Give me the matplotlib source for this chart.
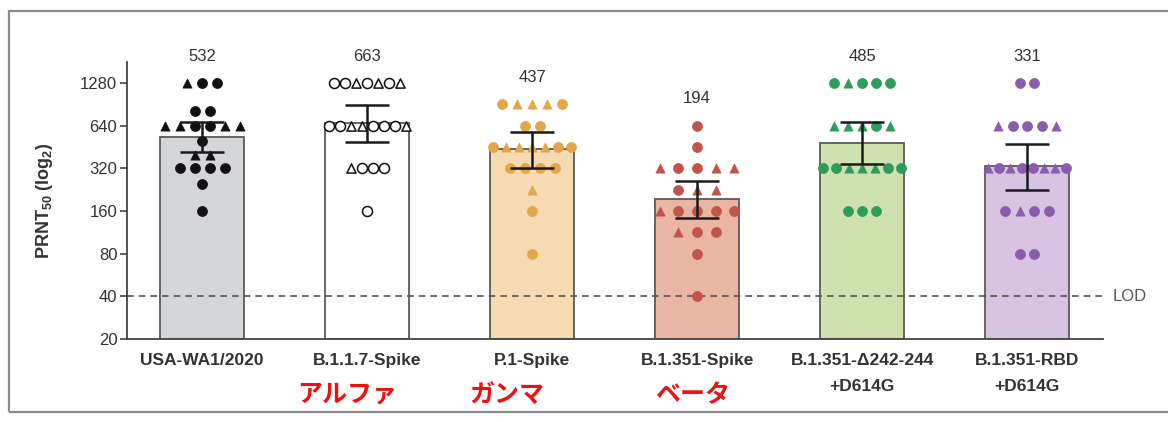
import matplotlib
matplotlib.use("Agg")
import matplotlib.pyplot as plt
import matplotlib.transforms as mtransforms
from matplotlib.patches import Rectangle

plt.rcParams["font.family"] = ["Liberation Sans", "DejaVu Sans"]
plt.rcParams["mathtext.fontset"] = "custom"
plt.rcParams["mathtext.rm"] = "Liberation Sans"
plt.rcParams["mathtext.bf"] = "Liberation Sans:bold"

# --- data ---
labels = ["USA-WA1/2020", "B.1.1.7-Spike", "P.1-Spike", "B.1.351-Spike",
          "B.1.351-\u0394242-244\n+D614G", "B.1.351-RBD\n+D614G"]
jp_names = ["", "アルファ", "ガンマ", "ベータ", "", ""]
gmt = [532, 663, 437, 194, 485, 331]
ci_low = [415, 488, 323, 142, 343, 225]
ci_high = [675, 888, 582, 262, 675, 474]

usa_titers = [1280, 1280, 1280, 810, 810, 640, 640, 640, 640, 640, 640,
              500, 400, 400, 320, 320, 320, 320, 250, 160]
usa_shapes = "^oo" "oo" "^^oo^^" "o" "^^" "oooo" "o" "o"

b117_titers = [1280, 1280, 1280, 1280, 1280, 1280, 1280,
               640, 640, 640, 640, 640, 640, 640, 640,
               320, 320, 320, 320, 160]
b117_shapes = "oo^o^o^" "oo^^ooo^" "^ooo" "o"

p1_titers = [905, 905, 905, 905, 905, 640, 640,
             453, 453, 453, 453, 453, 453, 453,
             320, 320, 320, 320, 226, 160, 80]
p1_shapes = "o^^^o" "oo" "o^^^^oo" "oooo" "^" "o" "o"

b1351_titers = [640, 453, 320, 320, 320, 320, 320, 226, 226, 226,
                160, 160, 160, 160, 160, 113, 113, 113, 80, 40]
b1351_shapes = "o" "o" "^oo^^" "o^^" "^oooo" "^oo" "o" "o"

del_titers = [1280, 1280, 1280, 1280, 1280, 640, 640, 640, 640, 640,
              320, 320, 320, 320, 320, 320, 320, 160, 160, 160]
del_shapes = "o^ooo" "^^^o^" "oo^^^oo" "ooo"

rbd_titers = [1280, 1280, 640, 640, 640, 640, 640,
              320, 320, 320, 320, 320, 320, 320, 320,
              160, 160, 160, 160, 80, 80]
rbd_shapes = "oo" "^ooo^" "^o^oo^^o" "o^oo" "oo"

all_titers = [usa_titers, b117_titers, p1_titers, b1351_titers, del_titers, rbd_titers]
all_shapes = [usa_shapes, b117_shapes, p1_shapes, b1351_shapes, del_shapes, rbd_shapes]

# --- style ---
bar_colors = ["#d5d6da", "#ffffff", "#f6dab2", "#e9b6a4", "#cfe1ae", "#d7c4e3"]
pt_colors = ["#111111", "#111111", "#e2a64b", "#c2554b", "#2f9c5b", "#8a5cae"]
open_pts = [False, True, False, False, False, False]
max_step_px = [15, 11, 15, 18.7, 14, 14.5]
PX_PER_UNIT = 165.0

fig = plt.figure(figsize=(11.68, 4.22), dpi=100)
ax = fig.add_axes([127 / 1168, 1 - 339 / 422, 976 / 1168, (339 - 62) / 422])

x = list(range(len(labels)))
ax.bar(x, [g - 20 for g in gmt], bottom=20, width=0.51, color=bar_colors,
       edgecolor="#5a5a5a", linewidth=1.3, zorder=1)

ax.axhline(40, color="#555555", lw=1.2, ls=(0, (4, 3)), zorder=2)
ax.text(1.01, 40, "LOD", transform=mtransforms.blended_transform_factory(ax.transAxes, ax.transData),
        va="center", ha="left", fontsize=12, color="#555555", clip_on=False)

for i, (tit, shp) in enumerate(zip(all_titers, all_shapes)):
    rows = {}
    for v, s in zip(tit, shp):
        rows.setdefault(v, []).append(s)
    for v, marks in rows.items():
        n = len(marks)
        step = min(max_step_px[i], 78.0 / (n - 1)) if n > 1 else 0
        for k, m in enumerate(marks):
            xi = i + (k - (n - 1) / 2) * step / PX_PER_UNIT
            fc = "white" if open_pts[i] else pt_colors[i]
            ax.scatter([xi], [v], marker=m, s=44 if m == "^" else 52, facecolor=fc,
                       edgecolor=pt_colors[i], linewidths=1.1 if open_pts[i] else 0.5,
                       zorder=3, clip_on=False)
    ax.text(i, max(tit) * 1.55, str(gmt[i]), ha="center", va="center",
            fontsize=12, color="#333333")

yerr = [[g - lo for g, lo in zip(gmt, ci_low)], [hi - g for g, hi in zip(gmt, ci_high)]]
ax.errorbar(x, gmt, yerr=yerr, fmt="none", ecolor="#1a1a1a", elinewidth=1.8,
            capsize=15.5, capthick=1.8, zorder=4)

ax.set_yscale("log", base=2)
ticks = [20, 40, 80, 160, 320, 640, 1280]
ax.set_yticks(ticks)
ax.set_yticklabels([str(t) for t in ticks])
ax.minorticks_off()
ax.set_ylim(20, 1800)
ax.set_xlim(-0.455, 5.46)
ax.set_xticks(x)
ax.set_xticklabels(labels, fontsize=12.5, fontweight="bold", color="#333333",
                   linespacing=1.95, va="top")
ax.tick_params(axis="x", length=0, pad=10)
ax.tick_params(axis="y", length=5, width=1.2, color="#444444", labelsize=12,
               labelcolor="#333333", pad=2)
for side in ("top", "right"):
    ax.spines[side].set_visible(False)
for side in ("left", "bottom"):
    ax.spines[side].set_color("#444444")
    ax.spines[side].set_linewidth(1.3)

ax.set_ylabel(r"PRNT$_{\mathbf{50}}$ (log$_{\mathbf{2}}$)", fontsize=13,
              fontweight="bold", color="#333333")
ax.yaxis.set_label_coords(-0.074, 0.5)

# red Japanese variant names under three of the labels
jp_shift = [0, -0.12, -0.15, -0.03, 0, 0]
trans = mtransforms.blended_transform_factory(ax.transData, fig.transFigure)
for i, name in enumerate(jp_names):
    if name:
        ax.text(i + jp_shift[i], 1 - 395 / 422, name, transform=trans, ha="center",
                va="center", fontsize=18, fontweight="bold", color="#ee1111",
                family=["Noto Sans CJK JP", "DejaVu Sans"], clip_on=False)

# grey frame of the screenshot
fig.patches.append(Rectangle((9 / 1168, 1 - 412 / 422), 1.0, (412 - 11) / 422,
                             transform=fig.transFigure, fill=False,
                             edgecolor="#8c8c8c", linewidth=1.6))

fig.savefig("out.png", dpi=100)
